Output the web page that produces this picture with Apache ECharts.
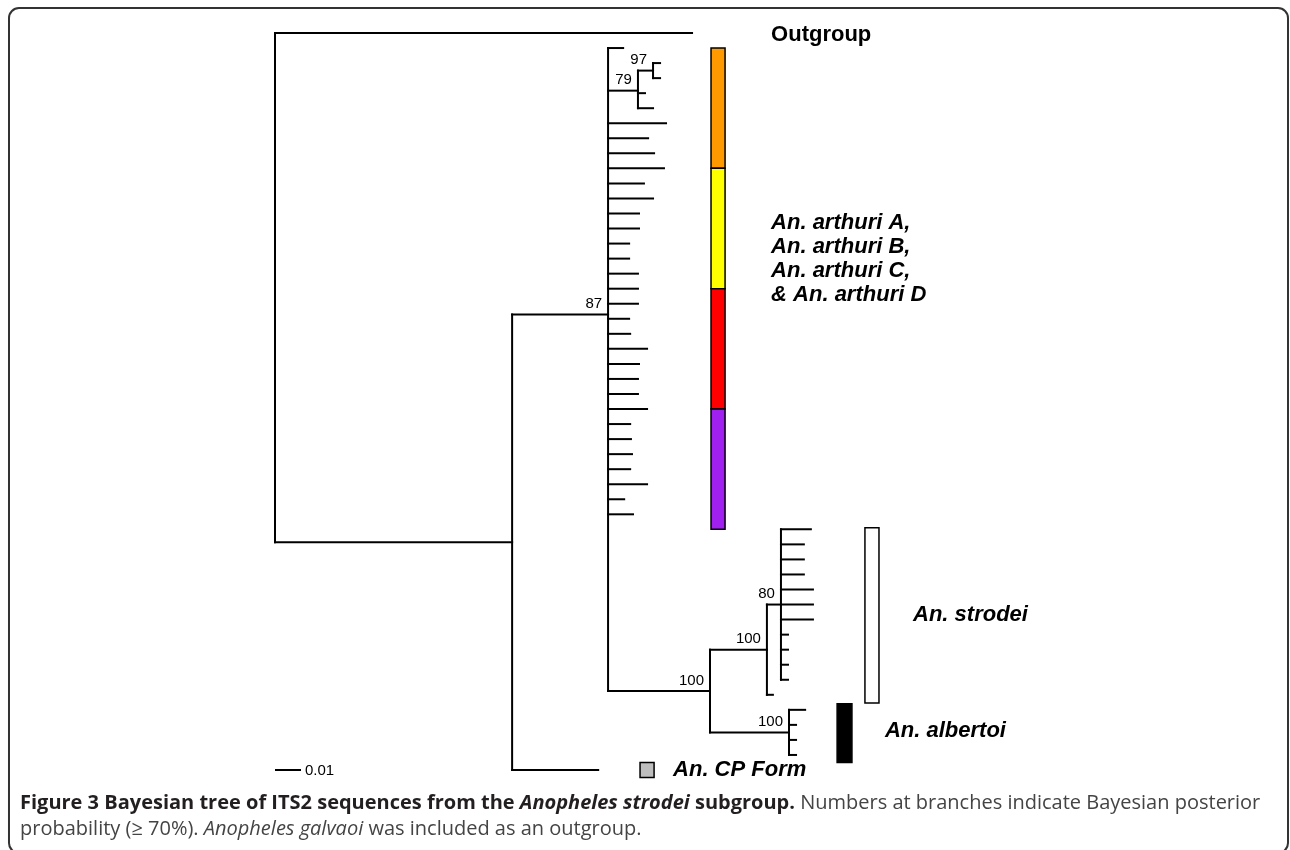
<!DOCTYPE html>
<html>
<head>
<meta charset="utf-8">
<script src="https://cdn.jsdelivr.net/npm/echarts@6/dist/echarts.min.js"></script>
<style>html,body{margin:0;padding:0;background:#fff}#c{width:1290px;height:850px}</style>
</head>
<body>
<div id="c"></div>
<script>
// ===== DATA (branch lengths in substitutions/site) =====
const outgroupLength = 0.1604;
const ingroupStem = 0.0912;
const cpFormLength = 0.0331;
const arthuriStem = 0.0369;
const arthuriFirstLeaf = [0.0058];
const node79Stem = 0.0115;
const node97Stem = 0.0058;
const node97Leaves = [0.0027, 0.0027];
const node79Leaves = [0.0027, 0.0058];
const arthuriLeaves = [0.0223, 0.0154, 0.0177, 0.0215, 0.0138, 0.0173, 0.0119, 0.0119, 0.0081, 0.0081,
                       0.0115, 0.0115, 0.0115, 0.0081, 0.0085, 0.0150, 0.0119, 0.0115, 0.0115, 0.0150,
                       0.0085, 0.0088, 0.0092, 0.0085, 0.0150, 0.0062, 0.0096];
const strodeiAlbertoiStem = 0.0392;
const strodeiStem = 0.0219;
const node80Stem = 0.0054;
const node80Leaves = [0.0115, 0.0088, 0.0088, 0.0088, 0.0123, 0.0123, 0.0123, 0.0027, 0.0027, 0.0027, 0.0027];
const strodeiSoloLeaf = [0.0023];
const albertoiStem = 0.0304;
const albertoiLeaves = [0.0062, 0.0027, 0.0027, 0.0027];
const supportValues = { n97: 97, n79: 79, n87: 87, nSA: 100, nStrodei: 100, n80: 80, nAlbertoi: 100 };
const arthuriGroupSizes = [8, 8, 8, 8];
const arthuriGroupColors = ['#FF9900', '#FFFF00', '#FF0000', '#A020F0'];
const scaleBarLength = 0.01;
const scaleBarLabel = '0.01';
const labels = {
  outgroup: 'Outgroup',
  arthuri: 'An. arthuri A,\nAn. arthuri B,\nAn. arthuri C,\n& An. arthuri D',
  strodei: 'An. strodei',
  albertoi: 'An. albertoi',
  cp: 'An. CP Form'
};

// ===== TREE BUILD =====
const leaf = (len, tag) => ({ len, tag });
const node = (len, children, support, tag) => ({ len, children, support, tag });
const leaves = arr => arr.map(l => leaf(l));

const tree = node(0, [
  leaf(outgroupLength, 'outgroup'),
  node(ingroupStem, [
    node(arthuriStem, [
      ...leaves(arthuriFirstLeaf),
      node(node79Stem, [
        node(node97Stem, leaves(node97Leaves), supportValues.n97),
        ...leaves(node79Leaves)
      ], supportValues.n79),
      ...leaves(arthuriLeaves),
      node(strodeiAlbertoiStem, [
        node(strodeiStem, [
          node(node80Stem, leaves(node80Leaves), supportValues.n80),
          ...leaves(strodeiSoloLeaf)
        ], supportValues.nStrodei, 'strodei'),
        node(albertoiStem, leaves(albertoiLeaves), supportValues.nAlbertoi, 'albertoi')
      ], supportValues.nSA)
    ], supportValues.n87, 'arthuriNode'),
    leaf(cpFormLength, 'cp')
  ])
]);

let leafCounter = 0;
const tagged = {};
function layout(n, parentX) {
  n.x = parentX + n.len;
  if (!n.children) {
    n.y = leafCounter++;
    n.minLeaf = n.maxLeaf = n.y;
  } else {
    n.children.forEach(c => layout(c, n.x));
    n.y = n.children.reduce((s, c) => s + c.y, 0) / n.children.length;
    n.minLeaf = Math.min(...n.children.map(c => c.minLeaf));
    n.maxLeaf = Math.max(...n.children.map(c => c.maxLeaf));
  }
  if (n.tag) tagged[n.tag] = n;
}
layout(tree, 0);
const nLeaves = leafCounter;

const edges = [];
const supports = [];
(function walk(n) {
  if (!n.children) return;
  const ys = n.children.map(c => c.y);
  edges.push([n.x, Math.min(...ys), n.x, Math.max(...ys)]);
  n.children.forEach(c => { edges.push([n.x, c.y, c.x, c.y]); walk(c); });
  if (n.support != null) supports.push([n.x, n.y, n.support]);
})(tree);

// ===== LAYOUT (annotation placement) =====
const barX = { arthuri: [0.1677, 0.1731], strodei: [0.2269, 0.2323], albertoi: [0.2162, 0.2219], cp: [0.1404, 0.1458] };
const bars = [];
let start = tagged.arthuriNode.minLeaf;
arthuriGroupSizes.forEach((sz, i) => {
  bars.push([barX.arthuri[0], start, barX.arthuri[1], start + sz, arthuriGroupColors[i]]);
  start += sz;
});
bars.push([barX.strodei[0], tagged.strodei.minLeaf - 0.1, barX.strodei[1], tagged.strodei.maxLeaf + 0.55, '#FFFFFF']);
bars.push([barX.albertoi[0], tagged.albertoi.minLeaf - 0.4, barX.albertoi[1], tagged.albertoi.maxLeaf + 0.5, '#000000']);
bars.push([barX.cp[0], tagged.cp.y - 0.5, barX.cp[1], tagged.cp.y + 0.5, '#BEBEBE']);

const labelFont = 'italic bold 22px "Liberation Sans", Arial, sans-serif';
const textRows = [
  [0.1908, tagged.outgroup.y + 0.1, labels.outgroup, 'bold 22px "Liberation Sans", Arial, sans-serif'],
  [0.1908, 15.0, labels.arthuri, labelFont],
  [0.2454, 38.7, labels.strodei, labelFont],
  [0.2346, 46.4, labels.albertoi, labelFont],
  [0.1531, tagged.cp.y, labels.cp, labelFont]
];

const chart = echarts.init(document.getElementById('c'), null, { renderer: 'canvas' });
chart.setOption({
  animation: false,
  backgroundColor: '#ffffff',
  grid: { left: 275, top: 33, width: 910, height: 737 },
  xAxis: { type: 'value', min: 0, max: 0.35, show: false },
  yAxis: { type: 'value', min: 0, max: nLeaves - 1, inverse: true, show: false },
  series: [
    {
      type: 'custom', clip: false, data: edges, encode: { x: [0, 2], y: [1, 3] },
      renderItem: (p, api) => {
        const a = api.coord([api.value(0), api.value(1)]);
        const b = api.coord([api.value(2), api.value(3)]);
        return { type: 'line', shape: { x1: a[0], y1: a[1], x2: b[0], y2: b[1] },
          style: { stroke: '#000', lineWidth: 2, lineCap: 'square' } };
      }
    },
    {
      type: 'custom', clip: false, data: [[0, nLeaves - 1, scaleBarLength, nLeaves - 1]], encode: { x: [0, 2], y: [1, 3] },
      renderItem: (p, api) => {
        const a = api.coord([api.value(0), api.value(1)]);
        const b = api.coord([api.value(2), api.value(3)]);
        return { type: 'group', children: [
          { type: 'line', shape: { x1: a[0], y1: a[1], x2: b[0], y2: b[1] }, style: { stroke: '#000', lineWidth: 2 } },
          { type: 'text', x: b[0] + 4, y: b[1] + 1, style: { text: scaleBarLabel, font: '15px "Liberation Sans", Arial, sans-serif', fill: '#000', align: 'left', verticalAlign: 'middle' } }
        ] };
      }
    },
    {
      type: 'custom', clip: false, data: bars, encode: { x: [0, 2], y: [1, 3] },
      renderItem: (p, api) => {
        const a = api.coord([api.value(0), api.value(1)]);
        const b = api.coord([api.value(2), api.value(3)]);
        return { type: 'rect', shape: { x: a[0], y: a[1], width: b[0] - a[0], height: b[1] - a[1] },
          style: { fill: bars[p.dataIndex][4], stroke: '#000', lineWidth: 1.5 } };
      }
    },
    {
      type: 'custom', clip: false, data: supports, encode: { x: 0, y: 1 },
      renderItem: (p, api) => {
        const a = api.coord([api.value(0), api.value(1)]);
        return { type: 'text', x: a[0] - 6, y: a[1] - 3,
          style: { text: String(api.value(2)), font: '15px "Liberation Sans", Arial, sans-serif', fill: '#000', align: 'right', verticalAlign: 'bottom' } };
      }
    },
    {
      type: 'custom', clip: false, data: textRows.map(r => [r[0], r[1]]), encode: { x: 0, y: 1 },
      renderItem: (p, api) => {
        const a = api.coord([api.value(0), api.value(1)]);
        const r = textRows[p.dataIndex];
        return { type: 'text', x: a[0], y: a[1],
          style: { text: r[2], font: r[3], fill: '#000', align: 'left', verticalAlign: 'middle', lineHeight: 24 } };
      }
    }
  ],
  graphic: [
    { type: 'rect', shape: { x: 9, y: 8, width: 1279, height: 845, r: 10 }, style: { fill: 'none', stroke: '#333', lineWidth: 2 }, silent: true },
    { type: 'text', left: 20, top: 793, style: {
        text: '{b|Figure 3 Bayesian tree of ITS2 sequences from the }{bi|Anopheles strodei}{b| subgroup.}{r| Numbers at branches indicate Bayesian posterior}',
        rich: {
          b: { font: 'bold 20px "Open Sans", sans-serif', fill: '#231f20' },
          bi: { font: 'italic bold 20px "Open Sans", sans-serif', fill: '#231f20' },
          r: { font: '20px "Open Sans", sans-serif', fill: '#444' }
        } } },
    { type: 'text', left: 20, top: 819, style: {
        text: '{r|probability (≥ 70%). }{i|Anopheles galvaoi}{r| was included as an outgroup.}',
        rich: {
          r: { font: '20px "Open Sans", sans-serif', fill: '#444' },
          i: { font: 'italic 20px "Open Sans", sans-serif', fill: '#444' }
        } } }
  ]
});
</script>
</body>
</html>
